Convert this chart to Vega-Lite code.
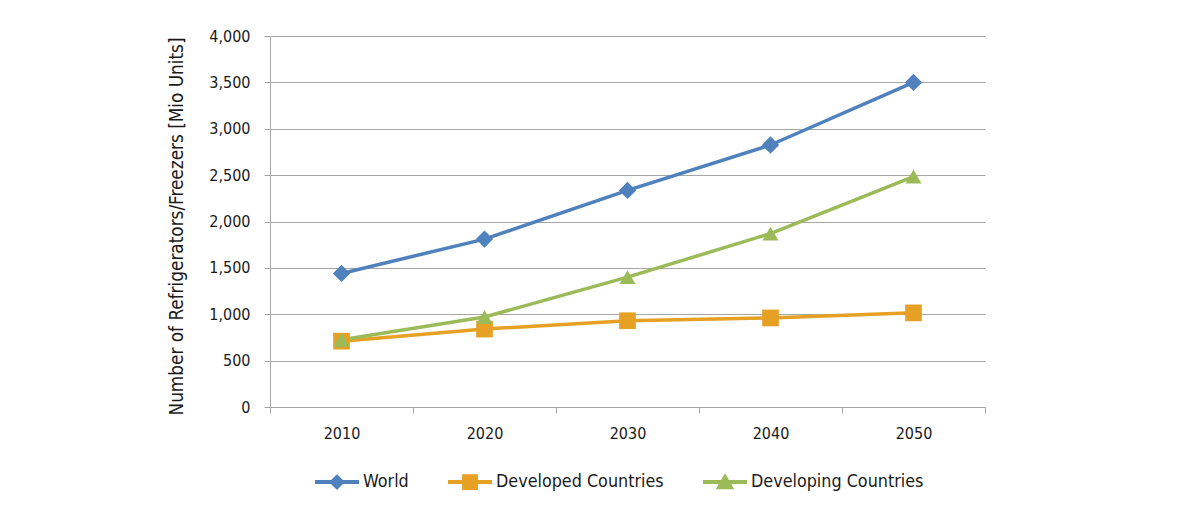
{
  "$schema": "https://vega.github.io/schema/vega-lite/v6.json",
  "width": 715,
  "height": 371,
  "autosize": "none",
  "padding": {"left": 270, "top": 36, "right": 218, "bottom": 119},
  "background": "white",
  "config": {
    "font": "DejaVu Sans Condensed",
    "view": {"stroke": null},
    "axis": {
      "labelFont": "DejaVu Sans Condensed",
      "titleFont": "DejaVu Sans Condensed",
      "labelFontSize": 16,
      "titleFontSize": 18.8,
      "labelColor": "#1a1a1a",
      "titleColor": "#1a1a1a",
      "titleFontWeight": "normal",
      "domainColor": "#a6a6a6",
      "tickColor": "#a6a6a6",
      "gridColor": "#a6a6a6",
      "domainWidth": 1,
      "tickWidth": 1,
      "gridWidth": 1
    },
    "legend": {
      "labelFont": "DejaVu Sans Condensed",
      "labelFontSize": 17.8,
      "labelColor": "#1a1a1a",
      "labelLimit": 0
    }
  },
  "data": {
    "values": [
      {"year": 2010, "series": "World", "value": 1440},
      {"year": 2020, "series": "World", "value": 1810},
      {"year": 2030, "series": "World", "value": 2335},
      {"year": 2040, "series": "World", "value": 2825},
      {"year": 2050, "series": "World", "value": 3500},
      {"year": 2010, "series": "Developed Countries", "value": 710},
      {"year": 2020, "series": "Developed Countries", "value": 840},
      {"year": 2030, "series": "Developed Countries", "value": 930},
      {"year": 2040, "series": "Developed Countries", "value": 960},
      {"year": 2050, "series": "Developed Countries", "value": 1015},
      {"year": 2010, "series": "Developing Countries", "value": 725},
      {"year": 2020, "series": "Developing Countries", "value": 970},
      {"year": 2030, "series": "Developing Countries", "value": 1400},
      {"year": 2040, "series": "Developing Countries", "value": 1870},
      {"year": 2050, "series": "Developing Countries", "value": 2485}
    ]
  },
  "layer": [
    {
      "mark": {"type": "line", "strokeWidth": 3.5},
      "encoding": {
        "x": {
          "field": "year", "type": "quantitative",
          "scale": {"domain": [2005, 2055], "nice": false, "zero": false},
          "axis": {
            "orient": "bottom", "values": [2005, 2015, 2025, 2035, 2045, 2055],
            "labels": false, "ticks": true, "tickSize": 6, "grid": false, "domain": true, "title": null
          }
        },
        "y": {
          "field": "value", "type": "quantitative",
          "scale": {"domain": [0, 4000], "nice": false},
          "axis": {
            "values": [0, 500, 1000, 1500, 2000, 2500, 3000, 3500, 4000],
            "format": ",.0f", "grid": true, "tickSize": 6, "labelPadding": 14,
            "title": "Number of Refrigerators/Freezers [Mio Units]", "titlePadding": 22, "titleY": 190
          }
        },
        "color": {
          "field": "series", "type": "nominal",
          "scale": {"domain": ["World", "Developed Countries", "Developing Countries"], "range": ["#4f81bd", "#e6a024", "#9bbb59"]},
          "legend": null
        }
      }
    },
    {
      "mark": {"type": "point", "filled": true, "opacity": 1},
      "encoding": {
        "x": {
          "field": "year", "type": "quantitative",
          "axis": {
            "orient": "bottom", "values": [2010, 2020, 2030, 2040, 2050], "format": "d",
            "ticks": false, "domain": false, "grid": false, "labelPadding": 18, "title": null
          }
        },
        "y": {"field": "value", "type": "quantitative"},
        "color": {
          "field": "series", "type": "nominal",
          "scale": {"domain": ["World", "Developed Countries", "Developing Countries"], "range": ["#4f81bd", "#e6a024", "#9bbb59"]},
          "legend": null
        },
        "shape": {
          "field": "series", "type": "nominal",
          "scale": {"domain": ["World", "Developed Countries", "Developing Countries"], "range": ["diamond", "square", "triangle-up"]},
          "legend": null
        },
        "size": {
          "field": "series", "type": "nominal",
          "scale": {"domain": ["World", "Developed Countries", "Developing Countries"], "range": [300, 256, 300]},
          "legend": null
        }
      }
    },
    {
      "mark": {"type": "point", "filled": true, "opacity": 0, "size": 1936},
      "encoding": {
        "x": {"field": "year", "type": "quantitative", "axis": null},
        "y": {"field": "value", "type": "quantitative"},
        "color": {
          "field": "series", "type": "nominal",
          "scale": {"domain": ["World", "Developed Countries", "Developing Countries"], "range": ["#4f81bd", "#e6a024", "#9bbb59"]},
          "legend": {
            "title": null,
            "orient": "none",
            "direction": "horizontal",
            "legendX": 45,
            "legendY": 424,
            "padding": 0,
            "symbolSize": 1936,
            "symbolOpacity": 1,
            "labelOffset": 4,
            "columnPadding": 39,
            "symbolStrokeWidth": 0
          }
        },
        "shape": {
          "field": "series", "type": "nominal",
          "scale": {
            "domain": ["World", "Developed Countries", "Developing Countries"],
            "range": [
              "M-1,-0.09H1V0.09H-1Z M0,-0.36L0.36,0L0,0.36L-0.36,0Z",
              "M-1,-0.09H1V0.09H-1Z M-0.36,-0.36H0.36V0.36H-0.36Z",
              "M-1,-0.09H1V0.09H-1Z M0,-0.4L0.42,0.32H-0.42Z"
            ]
          },
          "legend": {
            "title": null,
            "orient": "none",
            "direction": "horizontal",
            "legendX": 45,
            "legendY": 424,
            "padding": 0,
            "symbolSize": 1936,
            "symbolOpacity": 1,
            "labelOffset": 4,
            "columnPadding": 39,
            "symbolStrokeWidth": 0
          }
        }
      }
    }
  ],
  "resolve": {"axis": {"x": "independent"}, "scale": {"shape": "independent", "size": "independent", "color": "independent"}}
}
